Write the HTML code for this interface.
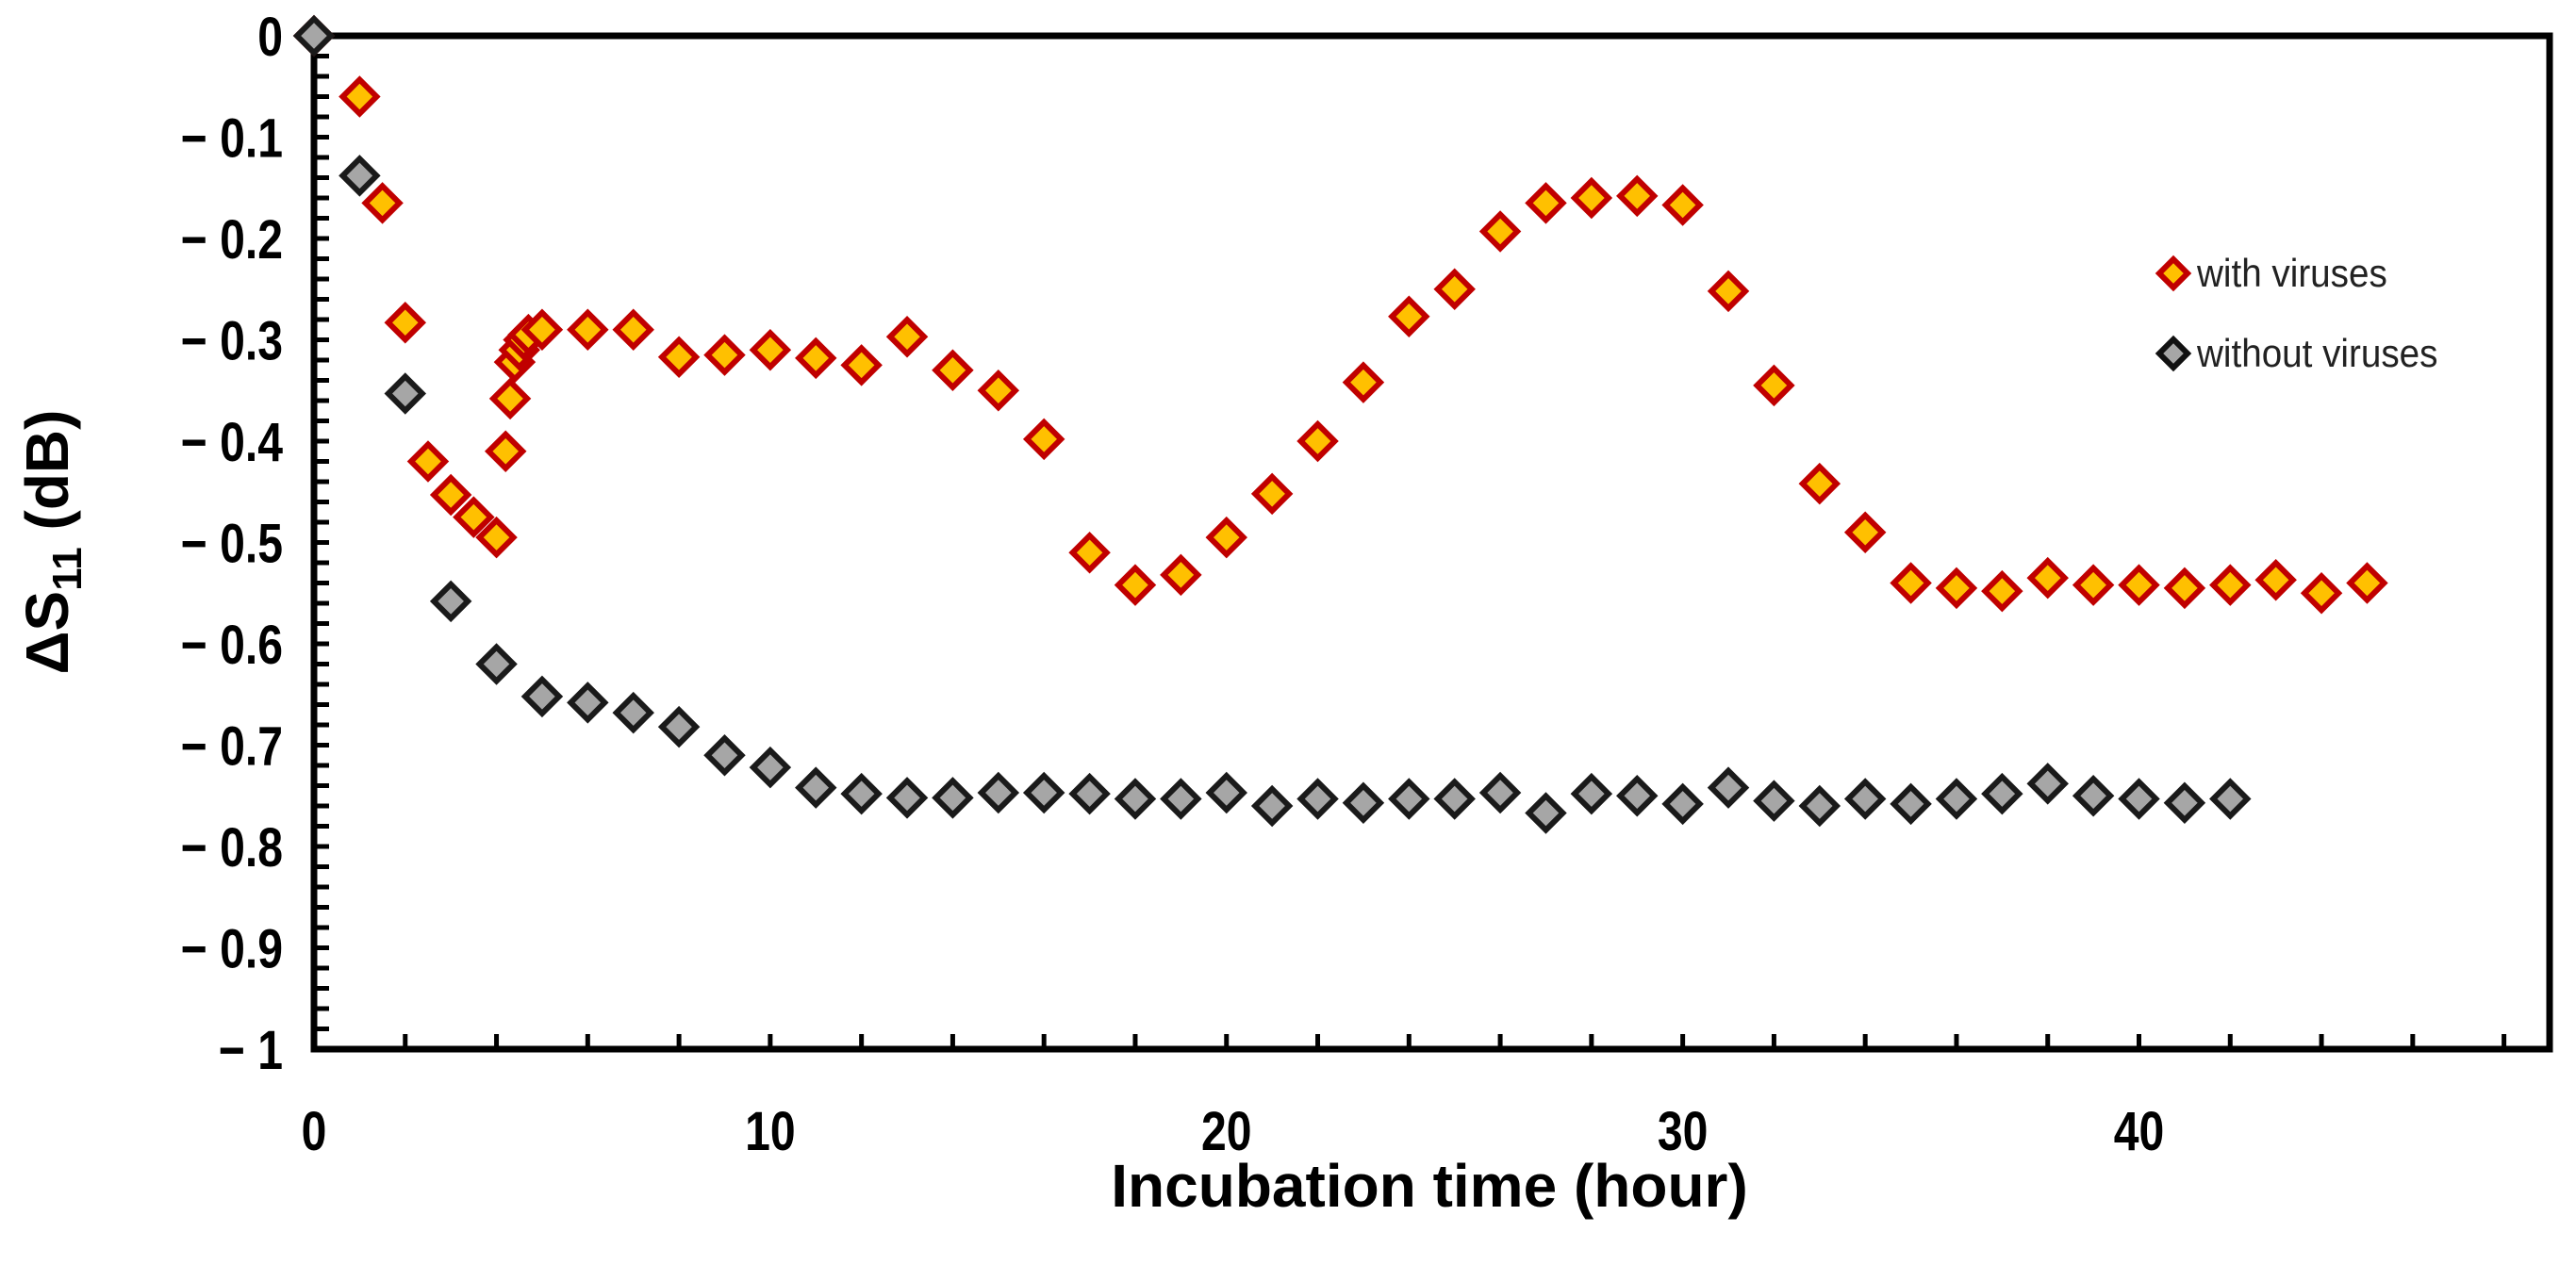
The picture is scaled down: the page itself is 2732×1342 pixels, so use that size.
<!DOCTYPE html>
<html><head><meta charset="utf-8"><style>
html,body{margin:0;padding:0;background:#fff;}
svg{display:block;font-family:"Liberation Sans",sans-serif;}
</style></head><body>
<svg id="chart" width="2732" height="1342" viewBox="0 0 2732 1342">
<g id="axes"></g>
<g id="marks"></g>
<text x="1516" y="1280" text-anchor="middle" font-size="64" font-weight="bold">Incubation time (hour)</text>
<text transform="translate(72,575) rotate(-90)" text-anchor="middle" font-size="64" font-weight="bold">ΔS<tspan font-size="44" dy="14">11</tspan><tspan dy="-14"> (dB)</tspan></text>
<g>
<g>
<path d="M2305,275 L2320,290 L2305,305 L2290,290 Z" fill="#ffc000" stroke="#c00000" stroke-width="6"/>
<text x="2330" y="304" font-size="42" fill="#222" transform="translate(2330,0) scale(0.92,1) translate(-2330,0)">with viruses</text></g>
<g>
<path d="M2305,360 L2320,375 L2305,390 L2290,375 Z" fill="#a6a6a6" stroke="#111" stroke-width="6"/>
<text x="2330" y="389" font-size="42" fill="#222" transform="translate(2330,0) scale(0.92,1) translate(-2330,0)">without viruses</text></g>
</g>
</svg>
<script>
const withX=[0,1,1.5,2,2.5,3,3.5,4,4.2,4.3,4.4,4.5,4.6,4.7,5,6,7,8,9,10,11,12,13,14,15,16,17,18,19,20,21,22,23,24,25,26,27,28,29,30,31,32,33,34,35,36,37,38,39,40,41,42,43,44,45];
const withY=[0,-0.06,-0.165,-0.283,-0.42,-0.453,-0.475,-0.495,-0.41,-0.358,-0.322,-0.31,-0.3,-0.295,-0.29,-0.29,-0.29,-0.317,-0.315,-0.31,-0.318,-0.325,-0.297,-0.33,-0.35,-0.398,-0.51,-0.542,-0.532,-0.495,-0.452,-0.4,-0.342,-0.277,-0.25,-0.193,-0.165,-0.16,-0.158,-0.167,-0.252,-0.345,-0.442,-0.49,-0.54,-0.545,-0.548,-0.535,-0.542,-0.542,-0.545,-0.542,-0.537,-0.55,-0.54];
const noX=[0,1,2,3,4,5,6,7,8,9,10,11,12,13,14,15,16,17,18,19,20,21,22,23,24,25,26,27,28,29,30,31,32,33,34,35,36,37,38,39,40,41,42];
const noY=[0,-0.138,-0.353,-0.558,-0.62,-0.652,-0.658,-0.668,-0.682,-0.71,-0.722,-0.742,-0.748,-0.752,-0.752,-0.747,-0.747,-0.748,-0.753,-0.753,-0.747,-0.76,-0.753,-0.757,-0.753,-0.753,-0.747,-0.767,-0.748,-0.75,-0.758,-0.742,-0.755,-0.76,-0.753,-0.758,-0.753,-0.748,-0.738,-0.75,-0.753,-0.757,-0.753];
const xTicks=[0,10,20,30,40];
const yTicks=[0,-0.1,-0.2,-0.3,-0.4,-0.5,-0.6,-0.7,-0.8,-0.9,-1];
const yLabels=["0","− 0.1","− 0.2","− 0.3","− 0.4","− 0.5","− 0.6","− 0.7","− 0.8","− 0.9","− 1"];
const X0=333,X1=2704,Y0=38,Y1=1113,XMAX=49;
const sx=v=>X0+(X1-X0)*v/XMAX;
const sy=v=>Y0+(Y1-Y0)*(-v);
const NS="http://www.w3.org/2000/svg";
const axes=document.getElementById('axes'),marks=document.getElementById('marks');
function mk(tag,attrs,parent){const e=document.createElementNS(NS,tag);for(const k in attrs)e.setAttribute(k,attrs[k]);parent.appendChild(e);return e;}
const frame=mk('rect',{x:X0,y:Y0,width:X1-X0,height:Y1-Y0,fill:'none',stroke:'#000','stroke-width':7},axes);


for(let v=0;v>=-1.0001;v-=0.02){const y=sy(v);const t=mk('line',{x1:X0,x2:X0+16,y1:y,y2:y,stroke:'#000','stroke-width':5},axes);

}
for(let h=2;h<XMAX;h+=2){const x=sx(h);const t=mk('line',{x1:x,x2:x,y1:Y1,y2:Y1-16,stroke:'#000','stroke-width':5},axes);

}
yTicks.forEach((v,i)=>{const y=sy(v)+21;const t=mk('text',{x:300,y:y,'text-anchor':'end','font-size':58,'font-weight':'bold',transform:`translate(300,0) scale(0.83,1) translate(-300,0)`},axes);t.textContent=yLabels[i];

});
xTicks.forEach(v=>{const x=sx(v);const t=mk('text',{x:x,y:1220,'text-anchor':'middle','font-size':58,'font-weight':'bold',transform:`translate(${x},0) scale(0.83,1) translate(${-x},0)`},axes);t.textContent=String(v);

});
function diamond(x,y,fill,stroke,name){const r=18;const p=mk('path',{d:`M${x},${y-r} L${x+r},${y} L${x},${y+r} L${x-r},${y} Z`,fill:fill,stroke:stroke,'stroke-width':6},marks);

}
withX.forEach((v,i)=>diamond(sx(v),sy(withY[i]),'#ffc000','#c00000','point-with-viruses'));
noX.forEach((v,i)=>diamond(sx(v),sy(noY[i]),'#a6a6a6','#1a1a1a','point-without-viruses'));
</script>
</body></html>
